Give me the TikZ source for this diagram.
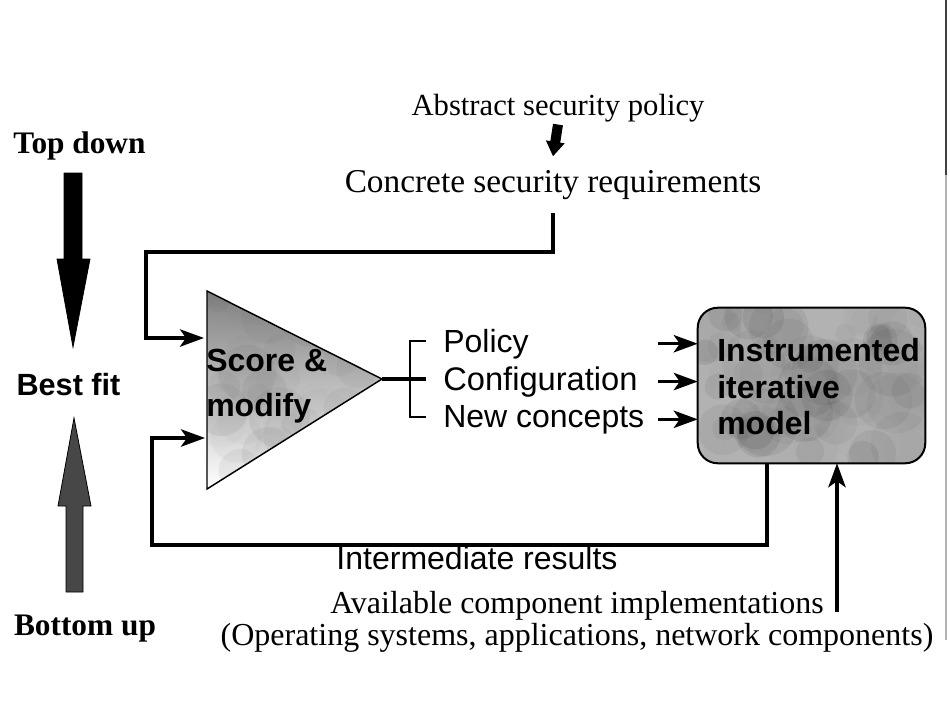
\documentclass[tikz,border=0pt]{standalone}
\usepackage{fontspec}
\setmainfont{Liberation Serif}
\setsansfont{Liberation Sans}
\usetikzlibrary{arrows.meta,calc}
\definecolor{shade}{gray}{0.76}
\definecolor{boxshade}{gray}{0.70}
\begin{document}
\begin{tikzpicture}[x=0.75pt,y=-0.75pt,
  serif/.style={font=\fontsize{24}{28}\selectfont, inner sep=0pt},
  serifb/.style={font=\bfseries\fontsize{23.5}{28}\selectfont, inner sep=0pt},
  sans/.style={font=\sffamily\fontsize{24}{28}\selectfont, inner sep=0pt},
  sansb/.style={font=\sffamily\bfseries\fontsize{23}{28}\selectfont, inner sep=0pt},
  conn/.style={line width=2.5pt},
  thin/.style={line width=2.2pt},
  tip/.style={-{Stealth[length=18pt,width=13pt,inset=4.5pt]}},
  bigdown/.style={fill=black, draw=black, line width=0.6pt},
  bigup/.style={fill=black!72, draw=black, line width=0.6pt}]
\fill[white] (0,0) rectangle (950,711);
\useasboundingbox (0,0) rectangle (950,711);

% left column
\node[serifb, anchor=base] (td) at (79.5,153) {Top down};
\node[sansb, anchor=base] (bf) at (68.5,395) {Best fit};
\node[serifb, anchor=base] (bu) at (85,635) {Bottom up};
\path[bigdown] (64,173) -- (82,173) -- (82,259) -- (90,259) -- (73,347) -- (57,259) -- (64,259) -- cycle;
\path[bigup] (66,592) -- (83,592) -- (83,506) -- (91,506) -- (74,418) -- (58,506) -- (66,506) -- cycle;

% top texts
\node[font=\fontsize{23}{28}\selectfont, inner sep=0pt, anchor=base] (abs) at (558,115) {Abstract security policy};
\node[font=\fontsize{25}{28}\selectfont, inner sep=0pt, anchor=base] (conc) at (553,192) {Concrete security requirements};
\draw[line width=7.5pt, -{Triangle[length=11pt,width=13.5pt]}] ([yshift=-2pt]abs.south) -- ([yshift=10pt]conc.north);

% triangle
\coordinate (tA) at (207,291);
\coordinate (tB) at (207,489);
\coordinate (tC) at (382,379);
\fill[shade] (tA) -- (tC) -- (tB) -- cycle;
\begin{scope}
  \clip (tA) -- (tC) -- (tB) -- cycle;
  \pgfmathsetseed{4242}
  \foreach \k in {1,...,60}{
    \pgfmathsetmacro\px{207+175*rnd}
    \pgfmathsetmacro\py{291+198*rnd}
    \pgfmathsetmacro\pr{10+22*rnd}
    \pgfmathsetmacro\pg{30+50*rnd}
    \fill[black!\pg, opacity=0.08] (\px,\py) circle[radius=\pr];
  }
\end{scope}
\draw[black, line width=1.1pt] (tA) -- (tC) -- (tB) -- cycle;
\node[font=\sffamily\bfseries\fontsize{24}{33.75}\selectfont, inner sep=0pt, align=left, anchor=west] (score) at (206,386) {Score \&\\modify};

% top connector
\coordinate (tcl) at (146,252);
\coordinate (tin1) at (204,338);
\draw[conn,tip] ([yshift=-10pt]conc.south) |- (tcl) |- (tin1);

% bracket and items
\coordinate (brM) at (410,379);
\coordinate (brT) at (410,341);
\coordinate (brB) at (410,417);
\draw[conn] (tC) -- (brM) -- ++(16,0);
\draw[thin] ([xshift=12pt]brT) -- (brT) -- (brB) -- ([xshift=12pt]brB);
\node[sans, anchor=base west] (pol) at (443,352) {Policy};
\node[font=\sffamily\fontsize{24.5}{28}\selectfont, inner sep=0pt, anchor=base west] (cfg) at (443,390) {Configuration};
\node[sans, anchor=base west] (nc) at (443,427) {New concepts};

% box
\node[fill=boxshade, rounded corners=15pt, minimum width=170.25pt, minimum height=116.25pt, inner sep=0pt] (box) at (811.5,385.5) {};
\begin{scope}
  \clip[rounded corners=15pt] (698,308) rectangle (925,463);
  \pgfmathsetseed{977}
  \foreach \k in {1,...,80}{
    \pgfmathsetmacro\px{698+227*rnd}
    \pgfmathsetmacro\py{308+155*rnd}
    \pgfmathsetmacro\pr{10+24*rnd}
    \pgfmathsetmacro\pg{20+70*rnd}
    \fill[black!\pg, opacity=0.10] (\px,\py) circle[radius=\pr];
  }
\end{scope}
\draw[black, line width=1.5pt, rounded corners=15pt] (box.north west) rectangle (box.south east);
\node[font=\sffamily\bfseries\fontsize{24}{27.4}\selectfont, inner sep=0pt, align=left, anchor=west] (boxtxt) at (717,387) {Instrumented\\iterative\\model};

\coordinate (ax) at (658,0);
\draw[conn,tip] (ax |- pol) -- (box.west |- pol);
\draw[conn,tip] (ax |- cfg) -- (box.west |- cfg);
\draw[conn,tip] (ax |- nc) -- (box.west |- nc);

% feedback loop
\coordinate (fbx) at (767,545);
\coordinate (fbl) at (152,545);
\coordinate (tin2) at (205,438);
\draw[conn,tip] (box.south -| fbx) -- (fbx) -- (fbl) |- (tin2);
\node[sans, anchor=base] (ir) at (477,569) {Intermediate results};

% bottom texts
\node[serif, anchor=base] (av1) at (577,613) {Available component implementations};
\node[serif, anchor=base] (av2) at (577,645) {(Operating systems, applications, network components)};
\coordinate (avx) at (837,612);
\draw[conn,tip] (avx) -- (avx |- box.south);

% scan edge
\draw[black!75, line width=0.9pt] (946,0) -- (946,175);
\draw[black!30, line width=0.9pt] (946,175) -- (946,640);
\end{tikzpicture}
\end{document}
